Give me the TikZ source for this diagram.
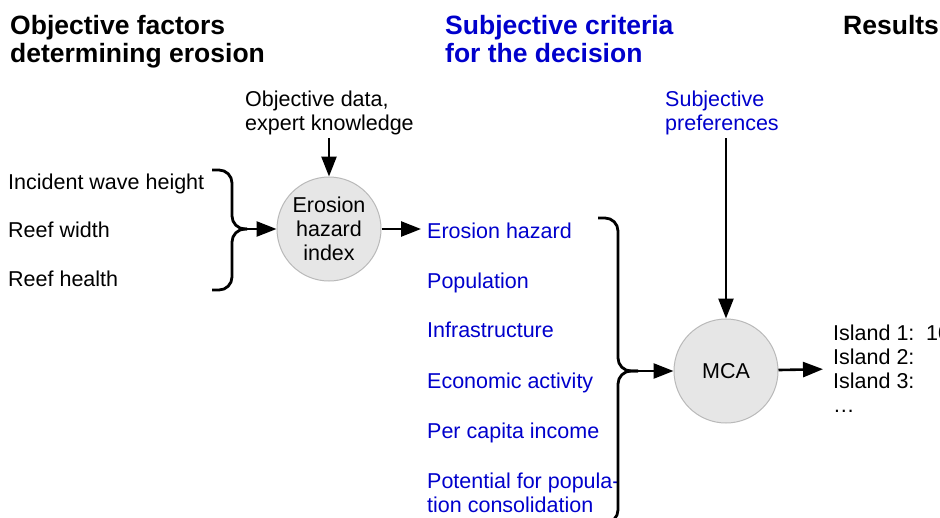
\documentclass[tikz,border=0pt]{standalone}
\usepackage{fontspec}
\setmainfont{Liberation Sans}
\usetikzlibrary{arrows.meta}

\definecolor{critblue}{RGB}{0,0,204}
\definecolor{discfill}{RGB}{230,230,230}
\definecolor{discline}{RGB}{185,185,185}

\tikzset{
  head/.style={anchor=north west, inner sep=0pt, align=left,
    font=\fontsize{26.5}{28}\selectfont\bfseries},
  body/.style={inner sep=0pt, font=\fontsize{21.5}{24}\selectfont},
  crit/.style={body, anchor=base west, text=critblue},
  disc/.style={body, circle, draw=discline, line width=1pt, fill=discfill,
    minimum size=104pt, align=center},
  arr/.style={line width=2.6pt, -{Triangle[length=20pt,width=15pt]}},
  brace/.style={line width=2.8pt, rounded corners=13pt},
}

\begin{document}
\begin{tikzpicture}[x=1pt, y=-1pt]
    \useasboundingbox (0,0) rectangle (940,517);
    \clip (0,0) rectangle (940,517);
% headings
\node[head] (objhead) at (10,15) {Objective factors\\determining erosion}; % column 1
\node[head, text=critblue] (subjhead) at (445,15) {Subjective criteria\\for the decision}; % column 2
\node[head] (reshead) at (843,15) {Results}; % column 3
% objective factors
\node[body, anchor=base west] (wave) at (8,189) {Incident wave height};
\node[body, anchor=base west] (width) at (8,237) {Reef width};
\node[body, anchor=base west] (health) at (8,286) {Reef health};
\node[body, anchor=north west, align=left] (objdata) at (245,91) {Objective data,\\expert knowledge};
\node[disc] (ehi) at (329,229) {Erosion\\hazard\\index};
\coordinate (factbrace) at (247,229);
\draw[brace] (212,170) -- (232,170) -- (232,229) -- (factbrace); % brace top
\draw[brace] (212,290) -- (232,290) -- (232,229) -- (factbrace); % brace bottom
\draw[arr] (factbrace) -- (ehi);
\draw[arr] (objdata.south -| ehi) ++(0,3) -- (ehi);
% criteria
\node[crit] (crit1) at (427,238) {Erosion hazard};
\node[crit] (crit2) at (427,288) {Population};
\node[crit] (crit3) at (427,337) {Infrastructure};
\node[crit] (crit4) at (427,388) {Economic activity};
\node[crit] (crit5) at (427,438) {Per capita income};
\node[crit, anchor=north west, align=left] (crit6) at (427,473) {Potential for popula-\\tion consolidation};
\draw[arr, shorten >=6pt] (ehi) -- (ehi -| crit1.west);
\node[body, anchor=north west, align=left, text=critblue] (prefs) at (665,91) {Subjective\\preferences};
\node[disc] (mca) at (726,371) {MCA};
\coordinate (critbrace) at (638,371);
\draw[brace] (598,218) -- (618,218) -- (618,371) -- (critbrace); % brace top
\draw[brace] (598,523) -- (618,523) -- (618,371) -- (critbrace); % brace bottom
\draw[arr] (critbrace) -- (mca);
\draw[arr] (prefs.south -| mca) ++(0,3) -- (mca);
% results
\node[body, anchor=north west, align=left] (islands) at (833,325) {Island 1:\\Island 2:\\Island 3:\\\ldots};
\node[body, anchor=base west] (score1) at (926,340) {10};
\draw[arr, shorten >=10pt] (mca) -- (islands.west);
    \end{tikzpicture}
\end{document}
